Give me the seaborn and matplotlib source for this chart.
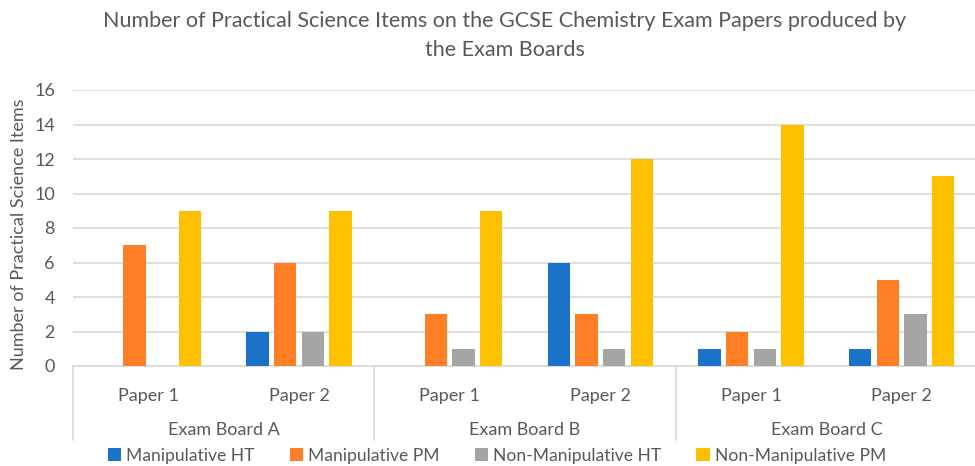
import matplotlib
matplotlib.use("Agg")
import matplotlib.pyplot as plt
import matplotlib.transforms as mtransforms
from matplotlib.patches import Patch
import seaborn as sns
import pandas as pd

boards = ["Exam Board A", "Exam Board B", "Exam Board C"]
papers = ["Paper 1", "Paper 2"]
series = ["Manipulative HT", "Manipulative PM", "Non-Manipulative HT", "Non-Manipulative PM"]
manip_ht = [0, 2, 0, 6, 1, 1]
manip_pm = [7, 6, 3, 3, 2, 5]
nonmanip_ht = [0, 2, 1, 1, 1, 3]
nonmanip_pm = [9, 9, 9, 12, 14, 11]
colors = ["#1A73C8", "#FF7F27", "#A5A5A5", "#FFC000"]

groups = [f"{b} | {p}" for b in boards for p in papers]
rows = []
for name, vals in zip(series, [manip_ht, manip_pm, nonmanip_ht, nonmanip_pm]):
    for g, v in zip(groups, vals):
        rows.append({"group": g, "series": name, "value": v})
df = pd.DataFrame(rows)

sns.set_theme(style="white")
plt.rcParams["font.family"] = ["Lato", "DejaVu Sans"]
text_color = "#595959"
grid_color = "#D9D9D9"
fs = 13

fig = plt.figure(figsize=(9.75, 4.66), dpi=100)
W, H = 975, 466
ax = fig.add_axes([73 / W, (H - 366) / H, (977 - 73) / W, (366 - 90) / H])

sns.barplot(data=df, x="group", y="value", hue="series", order=groups,
            hue_order=series, palette=colors, width=0.734, gap=0.2,
            linewidth=0, saturation=1, ax=ax, legend=False, zorder=3)

ax.set_ylim(0, 16)
ax.set_xlim(-0.5, len(groups) - 0.5)
ax.set_yticks(range(0, 17, 2))
ax.yaxis.grid(True, color=grid_color, linewidth=1.2, zorder=0)
ax.set_axisbelow(True)
for s in ["top", "right", "left"]:
    ax.spines[s].set_visible(False)
ax.spines["bottom"].set_color(grid_color)
ax.spines["bottom"].set_linewidth(1.2)
ax.tick_params(axis="both", length=0, colors=text_color, labelsize=fs)
ax.tick_params(axis="y", pad=13)
ax.tick_params(axis="x", pad=16)
ax.set_xticks(range(len(groups)))
ax.set_xticklabels([p for b in boards for p in papers])
ax.set_xlabel("")
ax.set_ylabel("Number of Practical Science Items", color=text_color, fontsize=fs, labelpad=5)
ax.yaxis.label.set_y(0.5 - 6 / 276)

trans = mtransforms.blended_transform_factory(ax.transData, ax.transAxes)
axh = 366 - 90
for i, b in enumerate(boards):
    ax.text(i * 2 + 0.5, -64 / axh, b, transform=trans, ha="center", va="center",
            color=text_color, fontsize=fs)
for xb in [-0.5, 1.5, 3.5]:
    ax.plot([xb, xb], [0, -74 / axh], transform=trans, color=grid_color,
            linewidth=1.2, clip_on=False)

fig.text(505 / W, 1 - 21 / H, "Number of Practical Science Items on the GCSE Chemistry Exam Papers produced by",
         ha="center", va="center", color=text_color, fontsize=15.5)
fig.text(505 / W, 1 - 50 / H, "the Exam Boards",
         ha="center", va="center", color=text_color, fontsize=15.5)

handles = [Patch(facecolor=c, edgecolor="none", label=s) for c, s in zip(colors, series)]
fig.legend(handles=handles, loc="center", bbox_to_anchor=(497 / W, 1 - 456 / H), ncol=4,
           frameon=False, fontsize=12.6, handlelength=0.75, handleheight=0.75,
           handletextpad=0.3, columnspacing=2.0, labelcolor=text_color,
           borderpad=0, borderaxespad=0)

fig.savefig("out.png", dpi=100)
